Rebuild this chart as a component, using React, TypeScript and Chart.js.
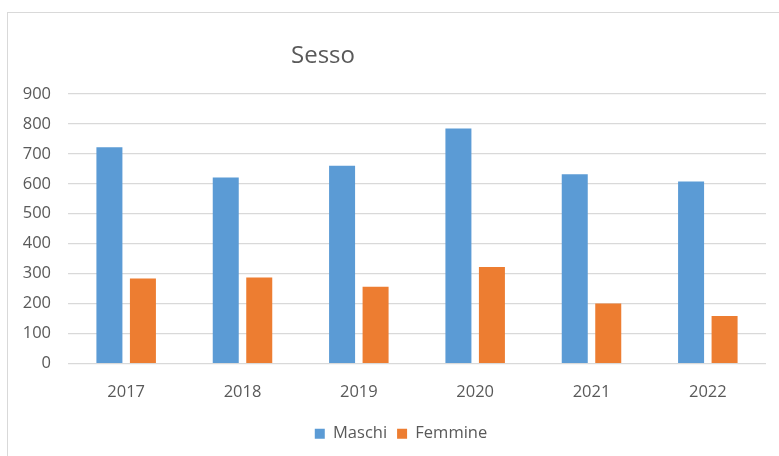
import React, { useEffect, useRef } from "react";
import { Chart, registerables } from "chart.js";

Chart.register(...registerables);

const categories = ["2017", "2018", "2019", "2020", "2021", "2022"];
const maschi = [722, 621, 660, 785, 632, 608];
const femmine = [284, 287, 256, 322, 200, 159];
const seriesNames = ["Maschi", "Femmine"];
const titleText = "Sesso";

const FONT = "'Open Sans', 'Noto Sans', sans-serif";

const legendShift = {
  id: "legendShift",
  afterLayout(chart: any) {
    const lg = chart.legend;
    if (lg) {
      lg.left += 18;
      lg.right += 18;
    }
  },
};

export default function App() {
  const ref = useRef<HTMLCanvasElement>(null);

  useEffect(() => {
    const canvas = ref.current;
    if (!canvas) return;
    const chart = new Chart(canvas, {
      type: "bar",
      data: {
        labels: categories,
        datasets: [
          {
            label: seriesNames[0],
            data: maschi,
            backgroundColor: "#5B9BD5",
            categoryPercentage: 0.576,
            barPercentage: 0.776,
          },
          {
            label: seriesNames[1],
            data: femmine,
            backgroundColor: "#ED7D31",
            categoryPercentage: 0.576,
            barPercentage: 0.776,
          },
        ],
      },
      plugins: [legendShift],
      options: {
        animation: false,
        responsive: false,
        maintainAspectRatio: false,
        layout: { padding: { left: 0, right: 13, top: 94, bottom: 4 } },
        plugins: {
          title: { display: false },
          tooltip: { enabled: false },
          legend: {
            position: "bottom",
            labels: {
              boxWidth: 10,
              boxHeight: 10,
              padding: 10,
              color: "#595959",
              font: { family: FONT, size: 16.5 },
            },
          },
        },
        scales: {
          x: {
            grid: { display: false },
            border: { display: false },
            ticks: {
              color: "#595959",
              padding: 11,
              font: { family: FONT, size: 16.5 },
            },
            afterFit: (scale: any) => {
              scale.height = 52;
            },
          },
          y: {
            min: 0,
            max: 900,
            grid: { color: "#d9d9d9", lineWidth: 1.2, drawTicks: false },
            border: { display: false },
            ticks: {
              stepSize: 100,
              color: "#595959",
              padding: 17,
              font: { family: FONT, size: 16.5 },
            },
            afterFit: (scale: any) => {
              scale.width = 68;
            },
          },
        },
      },
    });
    return () => chart.destroy();
  }, []);

  return (
    <div
      style={{
        position: "absolute",
        left: 0,
        top: 0,
        width: 779,
        height: 456,
        overflow: "hidden",
        background: "#fff",
      }}
    >
      <div
        style={{
          position: "absolute",
          left: 7,
          top: 12,
          width: 800,
          height: 500,
          border: "1px solid #d9d9d9",
          boxSizing: "border-box",
        }}
      />
      <canvas
        ref={ref}
        width={779}
        height={456}
        style={{ position: "absolute", left: 0, top: 0, width: 779, height: 456 }}
      />
      <div
        style={{
          position: "absolute",
          left: 291,
          top: 42,
          fontFamily: FONT,
          fontSize: 24,
          lineHeight: "24px",
          color: "#595959",
          whiteSpace: "nowrap",
        }}
      >
        {titleText}
      </div>
    </div>
  );
}
